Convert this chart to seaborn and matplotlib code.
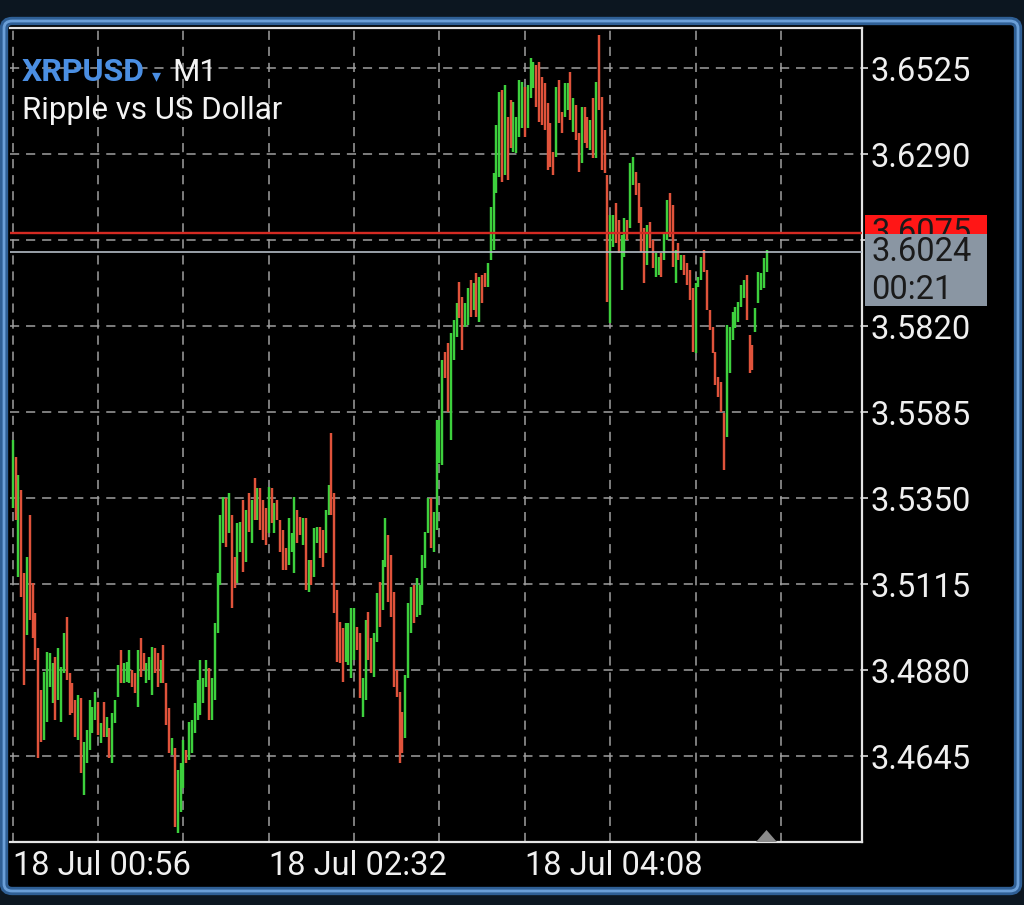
import pandas as pd
import matplotlib
matplotlib.use("Agg")
import matplotlib.pyplot as plt
import matplotlib.transforms as mtransforms
from matplotlib.patches import Rectangle, FancyBboxPatch, Polygon
import seaborn as sns

# XRPUSD M1 bars (one entry per minute bar)
high = [
    3.5509, 3.5462, 3.5413, 3.5372, 3.5145, 3.5189, 3.5304, 3.5118, 3.5036, 3.4940,
    3.4825, 3.4874, 3.4929, 3.4926, 3.4899, 3.4915, 3.4940, 3.4888, 3.4981, 3.5025,
    3.4871, 3.4844, 3.4798, 3.4812, 3.4803, 3.4683, 3.4716, 3.4798, 3.4779, 3.4820,
    3.4792, 3.4735, 3.4792, 3.4751, 3.4721, 3.4762, 3.4798, 3.4894, 3.4935, 3.4899,
    3.4903, 3.4935, 3.4880, 3.4871, 3.4935, 3.4967, 3.4926, 3.4899, 3.4915, 3.4943,
    3.4940, 3.4926, 3.4907, 3.4948, 3.4844, 3.4776, 3.4694, 3.4667, 3.4607, 3.4626,
    3.4689, 3.4661, 3.4738, 3.4743, 3.4790, 3.4853,
    3.4907, 3.4858, 3.4907, 3.4885, 3.4858, 3.5008, 3.5145, 3.5304, 3.5353, 3.5350,
    3.5364, 3.5304, 3.5189, 3.5282, 3.5284, 3.5345, 3.5317, 3.5364, 3.5345, 3.5405,
    3.5377, 3.5377, 3.5345, 3.5323, 3.5380, 3.5377, 3.5336, 3.5345, 3.5290, 3.5263,
    3.5213, 3.5295, 3.5254, 3.5353, 3.5317, 3.5298, 3.5295, 3.5295, 3.5181, 3.5181,
    3.5268, 3.5271, 3.5271, 3.5263, 3.5317, 3.5386, 3.5528, 3.5364, 3.5099, 3.5011,
    3.4995, 3.5008, 3.5008, 3.5049, 3.5049, 3.4997, 3.4981, 3.4858, 3.5017, 3.5038,
    3.4967, 3.4981, 3.5090, 3.5120, 3.5181, 3.5295, 3.5249, 3.5194, 3.5093, 3.4880,
    3.4820, 3.4765, 3.4866, 3.5063, 3.5107, 3.5112, 3.5131, 3.5112, 3.5194, 3.5257,
    3.5350, 3.5350, 3.5312, 3.5563,
    3.5563, 3.5727, 3.5749, 3.5774, 3.5801, 3.5836, 3.5883, 3.5940, 3.5899, 3.5883,
    3.5924, 3.5946, 3.5938, 3.5965, 3.5954, 3.5959, 3.5965, 3.5992, 3.6145, 3.6238,
    3.6369, 3.6460, 3.6465, 3.6479, 3.6391, 3.6438, 3.6432, 3.6391, 3.6492, 3.6487,
    3.6473, 3.6479, 3.6552, 3.6542, 3.6533, 3.6542, 3.6501, 3.6484, 3.6430, 3.6375,
    3.6296, 3.6473, 3.6492, 3.6405, 3.6484, 3.6484, 3.6514, 3.6443, 3.6424, 3.6348,
    3.6419, 3.6419, 3.6391, 3.6383, 3.6443, 3.6487, 3.6615, 3.6446, 3.6356, 3.6233,
    3.6123, 3.6123, 3.6156, 3.6110,
    3.6069, 3.6115, 3.6110, 3.6266, 3.6282, 3.6241, 3.6211, 3.6145, 3.6088, 3.6096,
    3.6104, 3.6055, 3.6020, 3.6009, 3.6020, 3.6074, 3.6164, 3.6184, 3.6151, 3.6028,
    3.6047, 3.6014, 3.6014, 3.5992, 3.5973, 3.5924, 3.5938, 3.5954, 3.6009, 3.6028,
    3.5973, 3.5864, 3.5817, 3.5749, 3.5681, 3.5667, 3.5582, 3.5823, 3.5817, 3.5858,
    3.5872, 3.5886, 3.5932, 3.5946, 3.5959, 3.5795, 3.5768, 3.5869, 3.5968, 3.5965,
    3.6006, 3.6028,
]
low = [
    3.5323, 3.5290, 3.5134, 3.5079, 3.4839, 3.4976, 3.5017, 3.4967, 3.4907, 3.4639,
    3.4683, 3.4689, 3.4738, 3.4833, 3.4790, 3.4743, 3.4798, 3.4738, 3.4871, 3.4853,
    3.4757, 3.4762, 3.4697, 3.4689, 3.4598, 3.4538, 3.4626, 3.4661, 3.4708, 3.4743,
    3.4702, 3.4680, 3.4697, 3.4697, 3.4639, 3.4626, 3.4735, 3.4806, 3.4844, 3.4844,
    3.4848, 3.4844, 3.4833, 3.4817, 3.4779, 3.4861, 3.4880, 3.4844, 3.4853, 3.4812,
    3.4871, 3.4833, 3.4844, 3.4844, 3.4730, 3.4653, 3.4648, 3.4451, 3.4434, 3.4492,
    3.4557, 3.4626, 3.4634, 3.4653, 3.4708, 3.4743,
    3.4757, 3.4790, 3.4833, 3.4743, 3.4743, 3.4798, 3.4981, 3.5112, 3.5227, 3.5216,
    3.5254, 3.5049, 3.5104, 3.5118, 3.5202, 3.5148, 3.5175, 3.5257, 3.5227, 3.5290,
    3.5290, 3.5263, 3.5235, 3.5222, 3.5254, 3.5282, 3.5254, 3.5290, 3.5202, 3.5153,
    3.5153, 3.5167, 3.5202, 3.5145, 3.5227, 3.5249, 3.5222, 3.5099, 3.5093, 3.5112,
    3.5134, 3.5227, 3.5186, 3.5161, 3.5200, 3.5304, 3.5304, 3.5036, 3.4902, 3.4899,
    3.4847, 3.4902, 3.4893, 3.4858, 3.4907, 3.4935, 3.4803, 3.4751, 3.4798, 3.4907,
    3.4871, 3.4861, 3.4956, 3.4997, 3.5044, 3.5161, 3.5066, 3.5025, 3.4833, 3.4806,
    3.4626, 3.4653, 3.4694, 3.4858, 3.4981, 3.5008, 3.5025, 3.5030, 3.5057, 3.5159,
    3.5254, 3.5213, 3.5202, 3.5263,
    3.5446, 3.5440, 3.5678, 3.5585, 3.5509, 3.5727, 3.5790, 3.5842, 3.5754, 3.5817,
    3.5823, 3.5845, 3.5864, 3.5845, 3.5831, 3.5883, 3.5927, 3.5927, 3.6000, 3.6028,
    3.6184, 3.6227, 3.6214, 3.6233, 3.6219, 3.6307, 3.6296, 3.6293, 3.6337, 3.6361,
    3.6337, 3.6361, 3.6443, 3.6471, 3.6419, 3.6378, 3.6369, 3.6356, 3.6246, 3.6255,
    3.6233, 3.6282, 3.6375, 3.6348, 3.6391, 3.6410, 3.6383, 3.6350, 3.6328, 3.6241,
    3.6266, 3.6320, 3.6307, 3.6301, 3.6279, 3.6279, 3.6410, 3.6246, 3.6238, 3.5886,
    3.5828, 3.6036, 3.6047, 3.6020,
    3.5918, 3.6009, 3.6055, 3.6088, 3.6205, 3.6178, 3.6102, 3.6022, 3.5938, 3.5987,
    3.6033, 3.5979, 3.5954, 3.5959, 3.5954, 3.6000, 3.6055, 3.6063, 3.5981, 3.5938,
    3.6000, 3.5973, 3.5959, 3.5932, 3.5891, 3.5749, 3.5746, 3.5927, 3.5946, 3.5968,
    3.5864, 3.5809, 3.5746, 3.5659, 3.5626, 3.5585, 3.5427, 3.5517, 3.5692, 3.5782,
    3.5815, 3.5831, 3.5872, 3.5897, 3.5836, 3.5692, 3.5700, 3.5804, 3.5883, 3.5918,
    3.5924, 3.5968,
]
# G = bull bar, R = bear bar
direction = list(
    "GRGRRGRRRR" "RGGGGRGGGR" "RRRGRGGGGG" "RGRGRGGGRG" "GGRRGRRGGG" "RRGRRRGRGG" "GRGGGG"
    "GGGRGGGGGR" "GRRGGRGRGR" "GRRRGRGRRR" "RGGGRRGRGR" "GGRRGGRRRR" "RGGGGRRGGR"
    "RGGRGGRRRR" "RRGGGRGGGG" "GRGG"
    "GGRRGGGRRG" "GRGRGRRGGG" "GGRGRRGGGG" "RGGGRRRRRR" "RGRRGGRGRR" "GRRGRGRRRR" "GGRR"
    "GGRGGRRRRG" "RRGGRGGRRG" "RGRRRRGGGR" "RRRRRRRGGG" "GGGGRRRGGG" "GG"
)

price_ticks = [3.6525, 3.6290, 3.6055, 3.5820, 3.5585, 3.5350, 3.5115, 3.4880, 3.4645]
price_labels = ["3.6525", "3.6290", "", "3.5820", "3.5585", "3.5350", "3.5115", "3.4880", "3.4645"]
time_ticks = [0, 90, 180]
time_labels = ["18 Jul 00:56", "18 Jul 02:32", "18 Jul 04:08"]
grid_bars = [30, 60, 120, 150, 210, 240, 270]
ask_price = 3.6075
bid_price = 3.6024
countdown = "00:21"

bars = pd.DataFrame({"bar": range(len(high)), "high": high, "low": low, "dir": direction})
long_df = bars.melt(id_vars=["bar", "dir"], value_vars=["low", "high"], value_name="price")

sns.set_style("dark")
plt.rcParams["font.family"] = ["Roboto", "DejaVu Sans"]

W, H = 1024, 905
fig = plt.figure(figsize=(W / 100, H / 100), dpi=100)
fig.patch.set_facecolor("#0c1620")

# rounded blue window frame
frame = FancyBboxPatch((4 / W, 1 - 891 / H), 1014 / W, 870 / H,
                       boxstyle="round,pad=0,rounding_size=0.008", transform=fig.transFigure,
                       facecolor="black", edgecolor="#2f5f95", lw=6, zorder=0)
fig.add_artist(frame)
frame2 = FancyBboxPatch((4 / W, 1 - 891 / H), 1014 / W, 870 / H,
                        boxstyle="round,pad=0,rounding_size=0.008", transform=fig.transFigure,
                        facecolor="none", edgecolor="#6b9fd8", lw=2, zorder=0)
fig.add_artist(frame2)

ax = fig.add_axes([10 / W, 1 - 842 / H, 852 / W, 814 / H])
ax.set_facecolor("black")

sns.lineplot(data=long_df, x="bar", y="price", units="bar", estimator=None, sort=False,
             hue="dir", palette={"G": "#3dd03d", "R": "#e0533b"}, legend=False,
             lw=1.75, solid_capstyle="butt", ax=ax, zorder=2)

ax.set_xlim(-0.95, 298.5)
ax.set_ylim(3.4410, 3.6635)
ax.set_xlabel("")
ax.set_ylabel("")

# price scale on the right
ax.yaxis.tick_right()
ax.set_yticks(price_ticks)
ax.set_yticklabels(price_labels)
ax.tick_params(axis="y", length=4, width=1.2, color="#dddddd", pad=2,
               labelsize=23.5, labelcolor="#f0f0f0")

# time scale
ax.set_xticks(time_ticks)
ax.set_xticklabels(time_labels, ha="left")
ax.set_xticks(grid_bars, minor=True)
ax.tick_params(axis="x", which="major", direction="in", length=9, width=1.2,
               color="#dddddd", pad=6, labelsize=23.5, labelcolor="#f0f0f0")
ax.tick_params(axis="x", which="minor", direction="in", length=5, width=1.2, color="#dddddd")

grid_kw = dict(color="#a0a0a0", lw=1.1, linestyle=(0, (6, 4.5)))
ax.grid(True, axis="x", which="both", **grid_kw)
ax.grid(True, axis="y", which="major", **grid_kw)
ax.set_axisbelow(True)

for side in ["top", "right", "bottom"]:
    ax.spines[side].set_color("#e4e4e4")
    ax.spines[side].set_linewidth(1.6)
ax.spines["left"].set_visible(False)

# ask / bid lines
ax.axhline(ask_price, color="#d42a22", lw=1.7, zorder=4)
ax.axhline(bid_price, color="#b3bcc6", lw=1.2, zorder=4)

trans = mtransforms.blended_transform_factory(ax.transAxes, ax.transData)
ask_box = Rectangle((1.0035, ask_price - 0.0049), 0.1432, 0.0098, transform=trans,
                    facecolor="#ff1616", edgecolor="none", clip_on=False, zorder=20)
ax.add_patch(ask_box)
ask_txt = ax.text(1.0110, ask_price, f"{ask_price:.4f}", transform=trans, ha="left",
                  va="center", fontsize=23.5, color="#1a1a1a", zorder=21)
ax.add_patch(Rectangle((1.0035, bid_price - 0.0150), 0.1432, 0.0199, transform=trans,
                       facecolor="#8a96a3", edgecolor="none", clip_on=False, zorder=22))
ax.text(1.0110, bid_price, f"{bid_price:.4f}", transform=trans, ha="left", va="center",
        fontsize=23.5, color="#1a1a1a", clip_on=False, zorder=23)
ax.text(1.0110, bid_price - 0.0104, countdown, transform=trans, ha="left", va="center",
        fontsize=23.5, color="#1a1a1a", clip_on=False, zorder=23)
ask_txt.set_clip_path(ask_box)

# symbol header
ax.text(0.0141, 0.9349, "XRPUSD", transform=ax.transAxes, ha="left", va="baseline",
        fontsize=23, fontweight="bold", color="#4b8fe3", zorder=10)
ax.text(0.1665, 0.9349, "▾", transform=ax.transAxes, ha="left", va="baseline",
        fontsize=13, color="#4b8fe3", family=["DejaVu Sans"], zorder=10)
ax.text(0.1900, 0.9349, "M1", transform=ax.transAxes, ha="left", va="baseline",
        fontsize=22.5, color="#f4f4f4", zorder=10)
ax.text(0.0141, 0.8882, "Ripple vs US Dollar", transform=ax.transAxes, ha="left",
        va="baseline", fontsize=22.5, color="#f4f4f4", zorder=10)

# chart shift marker
fig.add_artist(Polygon([(756, H - 842), (777, H - 842), (766.5, H - 830)], closed=True,
                       transform=mtransforms.IdentityTransform(), facecolor="#8a8a8a",
                       edgecolor="none", zorder=5))

fig.savefig("out.png", dpi=100, facecolor=fig.get_facecolor())
